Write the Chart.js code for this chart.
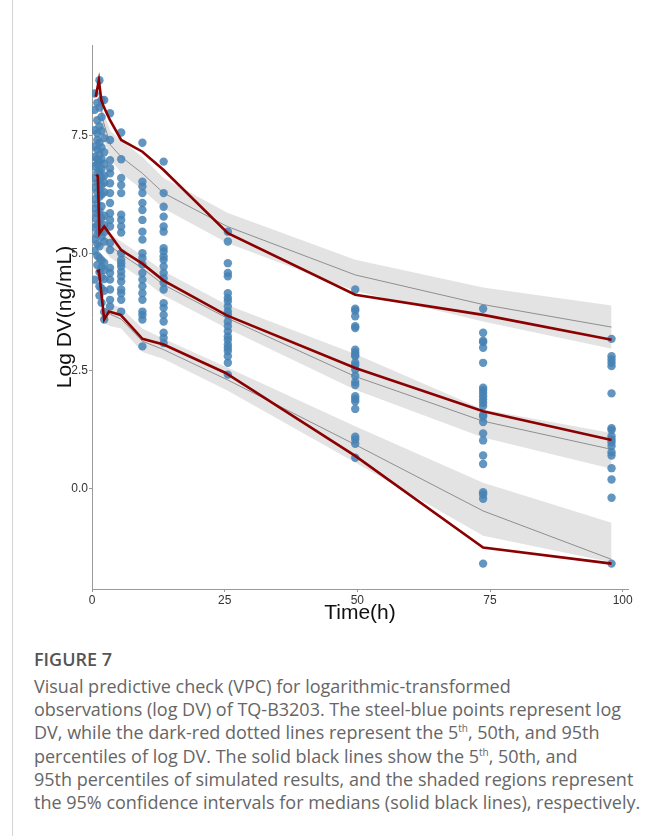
<!DOCTYPE html>
<html>
<head>
<meta charset="utf-8">
<script src="https://cdn.jsdelivr.net/npm/chart.js@4/dist/chart.umd.min.js"></script>
<style>
  body { margin: 0; background: #fff; width: 667px; height: 836px; overflow: hidden; position: relative; }
  .frame { position: absolute; left: 12px; top: 0; height: 836px; border-left: 1px solid #d4d4d4; }
  #chartBox { position: absolute; left: 0; top: 0; width: 667px; height: 630px; }
  .caption { position: absolute; left: 34px; top: 647px; width: 630px; font-family: "Open Sans", sans-serif; color: #666; font-size: 18px; line-height: 23.2px; }
  .caption h4 { margin: 0; font-size: 18px; line-height: 24px; color: #555; font-weight: 600; }
  .caption p { margin: 4px 0 0 0; white-space: nowrap; }
  sup { font-size: 10px; line-height: 0; vertical-align: 7px; }
</style>
</head>
<body>
<div class="frame"></div>
<div id="chartBox"><canvas id="vpc" width="667" height="630"></canvas></div>
<div class="caption">
  <h4>FIGURE 7</h4>
  <p>Visual predictive check (VPC) for logarithmic-transformed<br>
  observations (log DV) of TQ-B3203. The steel-blue points represent log<br>
  DV, while the dark-red dotted lines represent the 5<sup>th</sup>, 50th, and 95th<br>
  percentiles of log DV. The solid black lines show the 5<sup>th</sup>, 50th, and<br>
  95th percentiles of simulated results, and the shaded regions represent<br>
  the 95% confidence intervals for medians (solid black lines), respectively.</p>
</div>
<script>
// axis ticks
const xTicks = [0, 25, 50, 75, 100];
const yTicks = [0, 2.5, 5, 7.5];

// observed log DV, one column per sampling time
const obsTimes = [0.5, 1.0, 1.4, 1.8, 2.3, 3.4, 5.5, 9.5, 13.5, 25.6, 49.6, 73.7, 97.9];
const obsValues = [
  [8.40, 8.05, 7.62, 7.27, 7.05, 6.85, 6.60, 6.40, 6.15, 5.95, 5.75, 5.55, 5.30, 5.05, 4.44],
  [8.20, 7.83, 7.55, 7.41, 7.20, 7.00, 6.90, 6.72, 6.50, 6.30, 6.05, 5.85, 5.60, 5.40, 5.20, 4.95, 4.75],
  [8.68, 8.10, 7.70, 7.35, 7.10, 6.95, 6.75, 6.55, 6.35, 6.20, 5.90, 5.65, 5.45, 5.15, 4.90, 4.60, 4.30, 4.10],
  [8.26, 7.90, 7.60, 7.25, 7.00, 6.80, 6.62, 6.45, 6.25, 6.00, 5.75, 5.50, 5.35, 4.85, 4.70, 4.50, 4.25, 3.95],
  [8.26, 7.45, 7.15, 6.90, 6.65, 6.50, 6.30, 5.80, 5.60, 5.45, 5.25, 4.80, 4.65, 4.45, 4.20, 3.75, 3.59],
  [7.98, 7.41, 6.98, 6.81, 6.70, 6.49, 6.28, 6.07, 5.85, 5.71, 5.57, 5.22, 5.07, 4.69, 4.58, 4.44, 4.23, 4.01, 3.87],
  [7.57, 7.00, 6.60, 6.45, 6.28, 5.82, 5.71, 5.57, 5.44, 5.00, 4.86, 4.79, 4.72, 4.61, 4.51, 4.40, 4.23, 4.15, 4.01, 3.76],
  [7.35, 6.52, 6.42, 6.28, 6.07, 5.92, 5.71, 5.46, 5.29, 5.00, 4.90, 4.76, 4.58, 4.44, 4.30, 4.15, 4.01, 3.76, 3.69, 3.59, 3.02],
  [6.95, 6.28, 5.99, 5.78, 5.57, 5.46, 5.11, 5.04, 4.93, 4.86, 4.72, 4.58, 4.47, 4.37, 4.23, 3.94, 3.84, 3.69, 3.55, 3.31, 3.20, 3.09],
  [5.46, 5.25, 4.79, 4.58, 4.51, 4.15, 4.05, 3.98, 3.87, 3.76, 3.69, 3.55, 3.45, 3.34, 3.23, 3.16, 3.06, 2.99, 2.92, 2.81, 2.67, 2.42],
  [4.23, 3.82, 3.78, 3.66, 3.45, 3.41, 2.95, 2.89, 2.84, 2.81, 2.67, 2.62, 2.53, 2.39, 2.26, 2.20, 1.96, 1.90, 1.85, 1.69, 1.10, 1.04, 0.95, 0.65],
  [3.82, 3.31, 3.14, 3.11, 2.99, 2.67, 2.14, 2.09, 2.03, 1.96, 1.89, 1.82, 1.75, 1.56, 1.53, 1.41, 1.17, 1.02, 0.70, 0.52, -0.08, -0.13, -0.22, -1.60],
  [3.18, 2.81, 2.74, 2.67, 2.60, 2.02, 1.28, 1.24, 1.11, 1.04, 0.98, 0.90, 0.77, 0.70, 0.43, 0.19, -0.20, -1.60]
];

// observed percentiles (dark red)
const obs95T = [0.7, 1.3, 1.75, 2.2, 3.4, 5.5, 9.5, 13.5, 25.6, 49.6, 73.7, 97.9];
const obs95 = [8.33, 8.68, 8.26, 8.12, 7.83, 7.41, 7.16, 6.77, 5.43, 4.12, 3.69, 3.16];
const obs50T = [0.8, 1.1, 1.4, 2.3, 5.5, 9.5, 13.5, 25.4, 49.6, 73.7, 97.9];
const obs50 = [6.67, 6.64, 5.42, 5.57, 5.07, 4.78, 4.42, 3.68, 2.56, 1.64, 1.03];
const obs05T = [0.9, 1.3, 2.3, 3.2, 5.4, 9.5, 13.5, 25.1, 49.6, 73.7, 97.9];
const obs05 = [4.61, 4.63, 3.59, 3.76, 3.69, 3.18, 3.06, 2.46, 0.69, -1.26, -1.60];

// simulated percentiles with 95% CI
const sim95T = [1.3, 2, 3.5, 5.5, 9.5, 13.5, 25.5, 49.6, 73.7, 97.9];
const sim95 = [8.60, 7.85, 7.30, 7.05, 6.70, 6.28, 5.57, 4.54, 3.91, 3.43];
const sim95Hi = [8.85, 8.05, 7.60, 7.40, 7.05, 6.60, 5.86, 4.86, 4.27, 3.89];
const sim95Lo = [8.30, 7.50, 7.00, 6.70, 6.35, 5.95, 5.22, 4.20, 3.55, 2.97];
const sim50T = [2, 3.5, 5.5, 9.5, 13.5, 25.5, 49.6, 73.7, 97.9];
const sim50 = [5.35, 5.15, 4.98, 4.68, 4.33, 3.62, 2.38, 1.43, 0.83];
const sim50Hi = [5.60, 5.40, 5.25, 4.95, 4.62, 3.90, 2.86, 1.68, 1.18];
const sim50Lo = [5.10, 4.90, 4.75, 4.45, 4.10, 3.40, 2.10, 1.08, 0.42];
const sim05T = [2.5, 3.5, 5.5, 9.5, 13.5, 25.5, 49.6, 73.7, 97.9];
const sim05 = [3.75, 3.70, 3.60, 3.13, 2.95, 2.31, 0.93, -0.48, -1.51];
const sim05Hi = [3.95, 3.92, 3.84, 3.40, 3.18, 2.57, 1.32, 0.12, -0.73];
const sim05Lo = [3.50, 3.45, 3.40, 2.90, 2.75, 2.08, 0.55, -1.01, -1.57];

const pair = (ts, vs) => ts.map((t, i) => ({ x: t, y: vs[i] }));
const axisFont = '"Liberation Sans", Arial, sans-serif';
const RED = '#8b0000';
const SIM = '#8f8f8f';
const BAND = '#e3e3e3';

const observed = [];
obsTimes.forEach((t, i) => obsValues[i].forEach(v => observed.push({ x: t, y: v })));

function band(ts, hi, lo) {
  return [
    { data: pair(ts, hi), borderWidth: 0, pointRadius: 0, fill: '+1', backgroundColor: BAND, order: 3 },
    { data: pair(ts, lo), borderWidth: 0, pointRadius: 0, fill: false, order: 3 }
  ];
}
function simLine(ts, vs) {
  return { data: pair(ts, vs), borderColor: SIM, borderWidth: 1, pointRadius: 0, fill: false, order: 2 };
}
function obsLine(ts, vs) {
  return { data: pair(ts, vs), borderColor: RED, borderWidth: 2.6, pointRadius: 0, fill: false, order: 0 };
}

new Chart(document.getElementById('vpc'), {
  type: 'line',
  data: {
    datasets: [
      ...band(sim95T, sim95Hi, sim95Lo),
      ...band(sim50T, sim50Hi, sim50Lo),
      ...band(sim05T, sim05Hi, sim05Lo),
      simLine(sim95T, sim95),
      simLine(sim50T, sim50),
      simLine(sim05T, sim05),
      {
        data: observed, showLine: false, pointRadius: 4.2, pointBorderWidth: 0,
        pointBackgroundColor: 'rgba(70,130,180,0.85)', order: 1
      },
      obsLine(obs95T, obs95),
      obsLine(obs50T, obs50),
      obsLine(obs05T, obs05)
    ]
  },
  options: {
    responsive: false,
    animation: false,
    layout: { padding: { top: 45, right: 39, left: 0, bottom: 0 } },
    plugins: { legend: { display: false }, tooltip: { enabled: false } },
    elements: { line: { tension: 0 } },
    scales: {
      x: {
        type: 'linear', min: 0, max: 101,
        afterBuildTicks: s => { s.ticks = xTicks.map(v => ({ value: v })); },
        afterFit: s => { s.height = 41; },
        grid: { drawOnChartArea: false, drawTicks: true, tickLength: 3, color: '#999' },
        border: { display: true, color: '#999', width: 1 },
        ticks: { color: '#333', font: { family: axisFont, size: 12 }, padding: 1, maxRotation: 0, autoSkip: false, callback: v => String(v) },
        title: { display: true, text: 'Time(h)', color: '#111', font: { family: axisFont, size: 21 }, padding: { top: 0, bottom: 4 } }
      },
      y: {
        type: 'linear', min: -2.14, max: 9.43,
        afterBuildTicks: s => { s.ticks = yTicks.map(v => ({ value: v })); },
        afterFit: s => { s.width = 92; },
        grid: { drawOnChartArea: false, drawTicks: true, tickLength: 3, color: '#999' },
        border: { display: true, color: '#999', width: 1 },
        ticks: { color: '#333', font: { family: axisFont, size: 12 }, padding: 1, autoSkip: false, callback: v => Number(v).toFixed(1) },
        title: { display: true, text: 'Log DV(ng/mL)', color: '#111', font: { family: axisFont, size: 21 }, padding: { top: 53, bottom: 0 } }
      }
    }
  }
});
</script>
</body>
</html>
